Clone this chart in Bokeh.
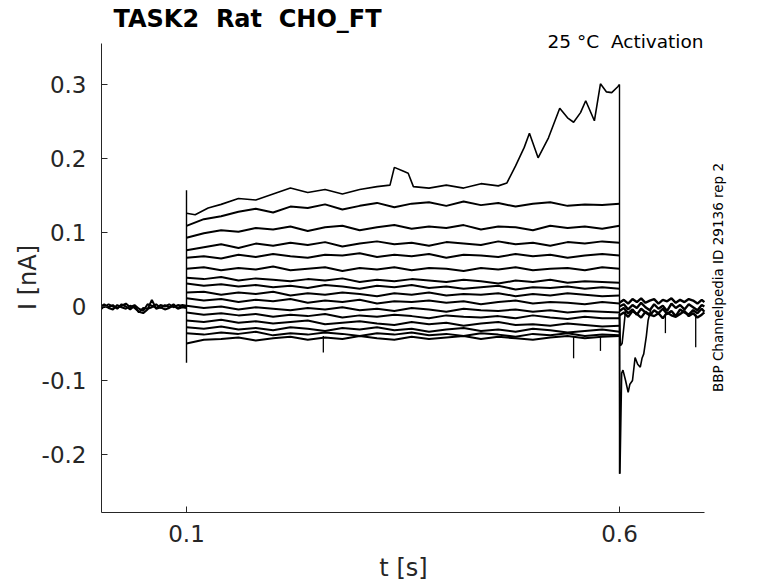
import math
from bokeh.plotting import figure
from bokeh.models import Range1d, FixedTicker, Label
from bokeh.embed import file_html
from bokeh.resources import INLINE

# ---------------- data (currents in pA, times in s) ----------------
# top trace (own time base)
t_top = [0.100, 0.110, 0.125, 0.140, 0.160, 0.180, 0.200, 0.220, 0.240, 0.260,
         0.280, 0.300, 0.320, 0.335, 0.340, 0.350, 0.356, 0.362, 0.380, 0.400,
         0.420, 0.440, 0.460, 0.470, 0.480, 0.490, 0.496, 0.506, 0.518, 0.531,
         0.540, 0.547, 0.555, 0.561, 0.571, 0.578, 0.585, 0.591, 0.598, 0.600]
i_top = [126, 124, 133, 138, 146, 144, 152, 160, 154, 158,
         152, 158, 162, 164, 188, 183, 180, 162, 160, 164,
         160, 166, 163, 167, 190, 215, 234, 201, 228, 268,
         255, 249, 262, 278, 251, 301, 290, 289, 297, 300]

# remaining sweeps during the step
t_step = [0.10, 0.12, 0.14, 0.16, 0.18, 0.20, 0.22, 0.24, 0.26, 0.28, 0.30, 0.32, 0.34,
          0.36, 0.38, 0.40, 0.42, 0.44, 0.46, 0.48, 0.50, 0.52, 0.54, 0.56, 0.58, 0.60]
sweep_02 = [109, 118, 122, 128, 132, 127, 135, 133, 138, 131, 136, 140, 134, 139, 141, 136, 142, 137, 140, 135, 139, 141, 136, 138, 137, 139]
sweep_03 = [93, 99, 103, 101, 106, 104, 108, 102, 107, 109, 103, 107, 110, 105, 108, 106, 110, 104, 108, 107, 103, 109, 106, 108, 105, 109]
sweep_04 = [76, 80, 84, 79, 85, 82, 86, 83, 87, 81, 85, 88, 84, 86, 82, 87, 85, 83, 88, 84, 86, 82, 87, 85, 88, 86]
sweep_05 = [66, 68, 65, 70, 67, 71, 68, 66, 70, 69, 72, 67, 70, 68, 71, 66, 70, 69, 67, 71, 68, 70, 66, 69, 71, 69]
sweep_06 = [51, 53, 49, 52, 50, 54, 49, 51, 53, 48, 52, 50, 53, 49, 52, 51, 48, 52, 50, 53, 49, 51, 52, 49, 53, 51]
sweep_07 = [39, 37, 40, 35, 38, 36, 34, 37, 35, 38, 33, 36, 34, 37, 35, 33, 36, 34, 31, 35, 33, 36, 32, 34, 33, 32]
sweep_08 = [31, 28, 30, 27, 29, 26, 28, 25, 29, 27, 24, 28, 26, 29, 25, 27, 24, 26, 28, 23, 26, 25, 27, 24, 26, 24]
sweep_09 = [19, 20, 16, 19, 17, 20, 15, 18, 16, 19, 17, 14, 18, 16, 19, 15, 17, 16, 18, 14, 17, 15, 18, 16, 14, 15]
sweep_10 = [11, 8, 10, 6, 9, 7, 10, 5, 8, 6, 9, 4, 7, 6, 8, 5, 7, 3, 6, 8, 4, 6, 5, 3, 6, 4]
sweep_11 = [1, -2, 0, -4, -1, -3, -5, -2, -4, -1, -5, -3, -6, -2, -4, -7, -3, -5, -6, -4, -7, -5, -8, -6, -7, -8]
sweep_12 = [-8, -11, -9, -12, -10, -14, -11, -13, -10, -15, -12, -14, -11, -13, -16, -12, -14, -15, -13, -16, -12, -15, -17, -14, -16, -16]
sweep_13 = [-19, -21, -18, -22, -20, -23, -21, -19, -24, -22, -20, -23, -25, -21, -24, -22, -26, -23, -21, -25, -24, -26, -23, -25, -27, -26]
sweep_14 = [-28, -30, -27, -31, -29, -32, -28, -30, -33, -29, -31, -28, -32, -30, -34, -31, -29, -33, -31, -34, -30, -32, -35, -33, -31, -34]
sweep_15 = [-36, -38, -35, -37, -34, -39, -36, -38, -35, -37, -40, -36, -38, -35, -39, -37, -40, -36, -38, -41, -37, -39, -36, -40, -38, -39]
sweep_16 = [-50, -45, -44, -42, -46, -43, -41, -45, -42, -44, -40, -43, -45, -41, -44, -42, -40, -44, -41, -43, -45, -42, -40, -43, -41, -40]

# holding current before the step
t_pre = [0.002, 0.005, 0.010, 0.015, 0.020, 0.025, 0.030, 0.035, 0.040, 0.045, 0.050,
         0.055, 0.060, 0.065, 0.070, 0.075, 0.080, 0.085, 0.090, 0.095, 0.100]
pre_a = [2, -1, 3, 0, -2, 1, 4, -1, 2, -3, -6, 3, 1, -2, 2, 0, 3, -1, 2, 1, 0]
pre_b = [-3, 1, -2, -4, 2, -1, -3, 1, -2, -7, -9, -4, 9, -3, -1, -4, -2, 1, -3, -1, -2]
pre_c = [0, 3, -1, 2, -3, 3, 0, -4, 1, -8, -2, -3, -1, 3, -2, 2, -1, 3, -2, 2, 1]

# current after the step
t_post = [0.600, 0.605, 0.610, 0.615, 0.620, 0.625, 0.630, 0.635, 0.640, 0.645, 0.650,
          0.655, 0.660, 0.665, 0.670, 0.675, 0.680, 0.685, 0.690, 0.695, 0.698]
post_a = [5, 9, 4, 10, 6, 11, 5, 8, 10, 4, 9, 7, 11, 5, 9, 6, 10, 8, 4, 9, 6]
post_b = [-6, -2, -9, -4, -11, -3, -8, -12, -5, -9, -3, -10, -6, -13, -4, -8, -11, -5, -9, -3, -7]
post_c = [0, 3, -4, 2, -2, 5, -1, -5, 3, -3, 1, -6, 4, -2, 2, -4, 3, -1, -5, 2, 0]
post_d = [-12, -8, -14, -6, -10, -15, -7, -11, -13, -9, -16, -8, -12, -14, -10, -6, -13, -9, -15, -11, -8]

# tail currents right after the step
t_tail1 = [0.600, 0.6005, 0.6025, 0.604, 0.607, 0.610, 0.612, 0.615, 0.618, 0.621, 0.624, 0.626, 0.628, 0.631, 0.633, 0.636]
i_tail1 = [-10, -226, -90, -86, -100, -116, -105, -100, -69, -78, -82, -70, -64, -40, -19, -5]
t_tail2 = [0.600, 0.601, 0.603, 0.605, 0.607]
i_tail2 = [-10, -53, -50, -28, -5]

# step onset / offset transients (s, pA low, pA high)
t_trans = [0.100, 0.600]
i_trans_lo = [-76, -226]
i_trans_hi = [157, 300]

# brief downward events (s, base pA, tip pA)
t_event = [0.258, 0.547, 0.578, 0.653, 0.688]
i_event_base = [-40, -40, -40, -10, -10]
i_event_tip = [-62, -70, -60, -36, -55]

y_ticks = [-0.2, -0.1, 0.0, 0.1, 0.2, 0.3]
y_tick_labels = ["-0.2", "-0.1", "0", "0.1", "0.2", "0.3"]
x_ticks = [0.1, 0.6]
x_tick_labels = ["0.1", "0.6"]

NB = "\u00a0"
title_text = "TASK2" + NB + " Rat" + NB + " CHO_FT"
cond_text = "25 °C" + NB + " Activation"
id_text = "BBP Channelpedia ID 29136 rep 2"

# ---------------- figure ----------------
FW, FH = 770, 583
# pixel mapping measured on the reference: t=0.1 -> 186 px, t=0.6 -> 619 px; I=0 -> 306 px, 0.1 nA = 74 px
PX_T01, PX_PER_S = 186.0, 866.0
PY_I0, PY_PER_NA = 306.0, 740.0

def dx(px):
    return 0.1 + (px - PX_T01) / PX_PER_S

def dy(py):
    return (PY_I0 - py) / PY_PER_NA

X_AX, X_END = dx(101), dx(704)   # y-axis location, x-axis end
Y_AX, Y_END = dy(512), dy(43)    # x-axis location, y-axis top

FONT = "DejaVu Sans"
DARK = "#262626"

p = figure(width=FW, height=FH, output_backend="svg", toolbar_location=None,
           x_range=Range1d(dx(0), dx(FW)), y_range=Range1d(dy(FH), dy(0)),
           min_border_left=0, min_border_right=0, min_border_top=0, min_border_bottom=0)
p.title.visible = False
p.outline_line_color = None
p.grid.visible = False
p.background_fill_color = "white"
p.border_fill_color = "white"

def nA(lst):
    return [v / 1000.0 for v in lst]

C = "black"
for tt, vv in [(t_pre, pre_a), (t_pre, pre_b), (t_pre, pre_c)]:
    p.line(tt, nA(vv), line_color=C, line_width=2.0)
for tt, vv in [(t_post, post_a), (t_post, post_b), (t_post, post_c), (t_post, post_d)]:
    p.line(tt, nA(vv), line_color=C, line_width=2.4)
for tt, vv in [(t_tail1, i_tail1), (t_tail2, i_tail2), (t_top, i_top)]:
    p.line(tt, nA(vv), line_color=C, line_width=1.6)

for s in [sweep_02, sweep_03, sweep_04, sweep_05, sweep_06, sweep_07, sweep_08, sweep_09,
          sweep_10, sweep_11, sweep_12, sweep_13, sweep_14, sweep_15, sweep_16]:
    p.line(t_step, nA(s), line_color=C, line_width=2.0)

p.segment(x0=t_trans, y0=nA(i_trans_lo), x1=t_trans, y1=nA(i_trans_hi), line_color=C, line_width=1.4)
p.segment(x0=t_event, y0=nA(i_event_base), x1=t_event, y1=nA(i_event_tip), line_color=C, line_width=1.3)

xa, ya = p.xaxis[0], p.yaxis[0]
for ax in (xa, ya):
    ax.axis_line_color = DARK
    ax.major_tick_line_color = DARK
    ax.minor_tick_line_color = None
    ax.major_tick_in = 6
    ax.major_tick_out = 0
    ax.major_label_text_font = FONT
    ax.major_label_text_font_size = "23px"
    ax.major_label_text_color = DARK
    ax.axis_label = None

xa.fixed_location = Y_AX
xa.bounds = (X_AX, X_END)
xa.ticker = FixedTicker(ticks=x_ticks)
xa.major_label_overrides = {t: l for t, l in zip(x_ticks, x_tick_labels)}
xa.major_label_standoff = 12
ya.fixed_location = X_AX
ya.bounds = (Y_AX, Y_END)
ya.ticker = FixedTicker(ticks=y_ticks)
ya.major_label_overrides = {t: l for t, l in zip(y_ticks, y_tick_labels)}
ya.major_label_standoff = 15

p.add_layout(Label(x=dx(113), y=dy(18), text=title_text, text_font=FONT,
                   text_font_style="bold", text_font_size="24px", text_color="black",
                   text_baseline="middle", text_align="left"))
p.add_layout(Label(x=dx(703), y=dy(41), text=cond_text, text_font=FONT,
                   text_font_size="18.5px", text_color="black",
                   text_baseline="middle", text_align="right"))
p.add_layout(Label(x=dx(717), y=dy(277), text=id_text, text_font=FONT,
                   text_font_size="13.5px", text_color="black", angle=math.pi / 2,
                   text_baseline="middle", text_align="center"))
p.add_layout(Label(x=dx(27), y=dy(277), text="I [nA]", text_font=FONT,
                   text_font_size="24px", text_color=DARK, angle=math.pi / 2,
                   text_baseline="middle", text_align="center"))
p.add_layout(Label(x=dx(403), y=dy(567), text="t [s]", text_font=FONT,
                   text_font_size="24px", text_color=DARK,
                   text_baseline="middle", text_align="center"))

open("out.html", "w").write(file_html(p, INLINE))
